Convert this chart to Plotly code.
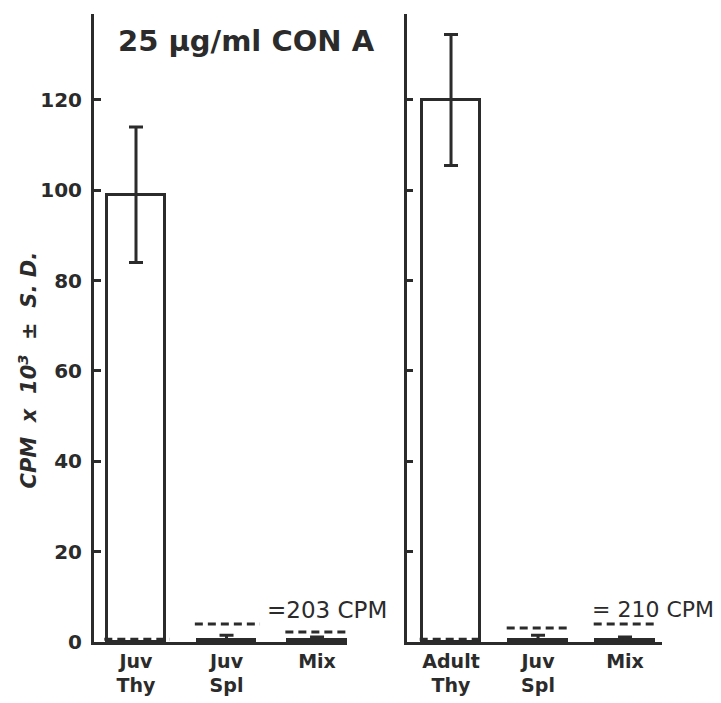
import plotly.graph_objects as go

# ---- data ----
left_categories = ["Juv<br>Thy", "Juv<br>Spl", "Mix"]
left_values = [99, 0.5, 0.5]
left_errors = [15, 1.0, 0.6]
left_background = [0.6, 4.0, 2.2]   # dashed control levels (x10^3 CPM)
left_note = "=203 CPM"

right_categories = ["Adult<br>Thy", "Juv<br>Spl", "Mix"]
right_values = [120, 0.5, 0.4]
right_errors = [14.5, 1.0, 0.7]
right_background = [0.6, 3.1, 4.0]
right_note = "= 210 CPM"

y_ticks = [0, 20, 40, 60, 80, 100, 120]
title_text = "25 µg/ml CON A"
y_title = "CPM  x  10<sup>3</sup>  ±  S. D."

INK = "#2b2b2b"
OFF = 8                      # default page margin around the figure
VIEW_H = 714                 # captured page height (shown at 703 px)
YS = 703 / VIEW_H
W, H = 721 - 2 * OFF, VIEW_H - 2 * OFF


def px(x):   # reference picture x -> paper fraction
    return (x - OFF) / W


def py(y):   # reference picture y -> paper fraction
    return 1 - (y / YS - OFF) / H


fig = go.Figure()


def add_panel(cats, vals, errs, bg, xa, ya, width):
    xs = list(range(len(cats)))
    fig.add_trace(go.Bar(
        x=xs, y=vals, width=width, xaxis=xa, yaxis=ya,
        marker=dict(color="white", line=dict(color=INK, width=3)),
        error_y=dict(type="data", array=errs, visible=True, color=INK,
                     thickness=3, width=7),
        showlegend=False, hoverinfo="skip"))
    for i, lvl in enumerate(bg):
        fig.add_trace(go.Scatter(
            x=[i - width / 2 - 0.03, i + width / 2 + 0.05], y=[lvl, lvl],
            mode="lines", xaxis=xa, yaxis=ya,
            line=dict(color=INK, width=3, dash="8px,5px"),
            showlegend=False, hoverinfo="skip"))
    return xs


lx = add_panel(left_categories, left_values, left_errors, left_background, "x", "y", 0.64)
rx = add_panel(right_categories, right_values, right_errors, right_background, "x2", "y2", 0.66)

yr = [0, 139]
ydom = [py(643), py(14)]
axis_common = dict(showline=True, linecolor=INK, linewidth=3, showgrid=False,
                   zeroline=False)
bold = dict(family="DejaVu Sans", weight="bold", color=INK)

fig.update_layout(
    width=W, height=H,
    margin=dict(l=0, r=0, t=0, b=0),
    paper_bgcolor="white", plot_bgcolor="white",
    bargap=0,
    font=dict(family="DejaVu Sans", color=INK),
    xaxis=dict(domain=[px(94), px(347)], range=[-0.464, 2.331],
               tickvals=lx, ticktext=left_categories,
               ticks="", tickfont=dict(size=19, **bold),
               anchor="y", **axis_common),
    yaxis=dict(domain=ydom, range=yr, tickvals=y_ticks,
               ticks="inside", ticklen=7, tickwidth=2.5, tickcolor=INK,
               tickfont=dict(size=20, **bold), ticklabelstandoff=5,
               anchor="x", **axis_common),
    xaxis2=dict(domain=[px(407), px(662)], range=[-0.506, 2.425],
                tickvals=rx, ticktext=right_categories,
                ticks="", tickfont=dict(size=19, **bold),
                anchor="y2", **axis_common),
    yaxis2=dict(domain=ydom, range=yr, tickvals=y_ticks,
                ticks="inside", ticklen=6, tickwidth=2.5, tickcolor=INK,
                showticklabels=False, anchor="x2", **axis_common),
)

fig.add_annotation(text=title_text, xref="paper", yref="paper",
                   x=px(116), y=py(41), xanchor="left", yanchor="middle",
                   showarrow=False, font=dict(size=29, **bold))
fig.add_annotation(text=f"<i>{y_title}</i>", xref="paper", yref="paper",
                   x=px(28), y=py(371), textangle=-90,
                   xanchor="center", yanchor="middle", showarrow=False,
                   font=dict(size=21, **bold))
fig.add_annotation(text=left_note, xref="x", yref="y", x=1.42, y=7.0,
                   xanchor="left", yanchor="middle", showarrow=False,
                   font=dict(size=23, family="DejaVu Sans", color=INK))
fig.add_annotation(text=right_note, xref="x2", yref="y2", x=1.6, y=7.3,
                   xanchor="left", yanchor="middle", showarrow=False,
                   font=dict(size=22, family="DejaVu Sans", color=INK))

fig.write_html("out.html")
